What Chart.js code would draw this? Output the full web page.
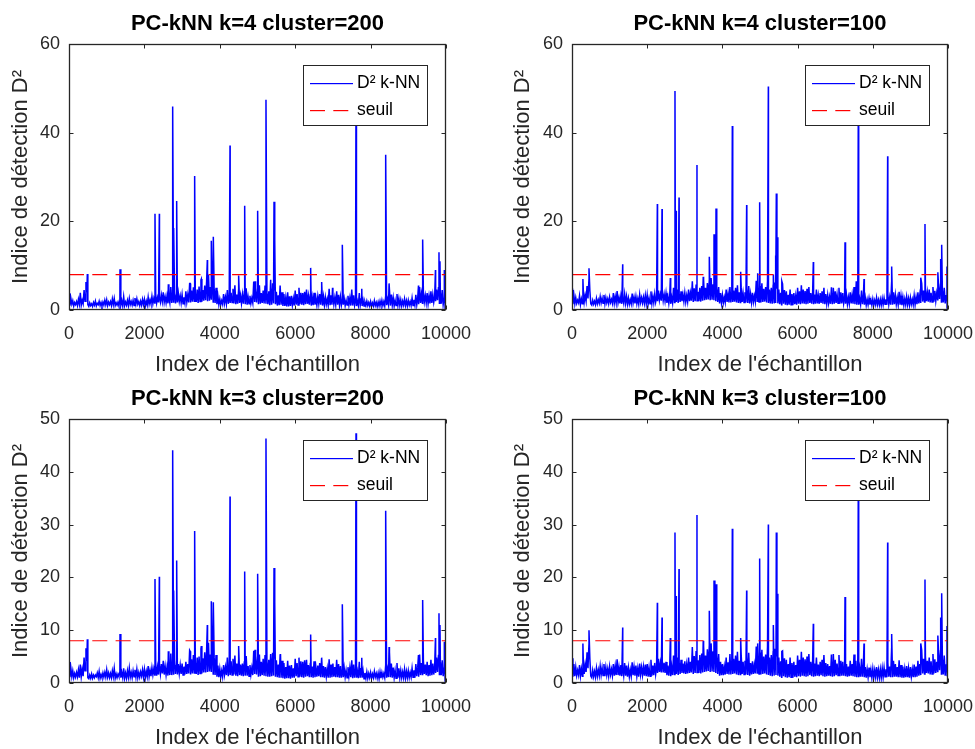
<!DOCTYPE html>
<html><head><meta charset="utf-8">
<script src="https://cdn.jsdelivr.net/npm/chart.js@4.4.1/dist/chart.umd.min.js"></script>
<style>
html,body{margin:0;padding:0;background:#fff;}
body{width:975px;height:749px;position:relative;overflow:hidden;}
canvas{position:absolute;}
</style></head><body>
<canvas id="c1" width="487" height="385" style="left:0px;top:0px"></canvas>
<canvas id="c2" width="485" height="385" style="left:490px;top:0px"></canvas>
<canvas id="c3" width="487" height="385" style="left:0px;top:370px"></canvas>
<canvas id="c4" width="485" height="385" style="left:490px;top:370px"></canvas>
<script>
// ---------------- data ----------------
const sampleStep = 25;          // spacing of the baseline samples (index units)
const threshold = 8;            // seuil
const xTicks = [0, 2000, 4000, 6000, 8000, 10000];
const yTicksTop = [0, 20, 40, 60];
const yTicksBottom = [0, 10, 20, 30, 40, 50];
const titles = ['PC-kNN k=4 cluster=200', 'PC-kNN k=4 cluster=100', 'PC-kNN k=3 cluster=200', 'PC-kNN k=3 cluster=100'];
const legendLabels = ['D² k-NN', 'seuil'];
const xLabel = "Index de l'échantillon";
const yLabel = 'Indice de détection D²';

// baseline D² values, one every 25 samples (0 ... 10000)
const base1 = [
 3.8,1.0,2.6,1.3,2.1,0.9,1.7,1.2,1.9,1.0,2.4,1.3,3.9,1.1,2.2,1.4,4.5,2.0,6.3,4.0,
 1.2,0.8,1.6,1.0,1.4,0.8,1.7,1.1,2.0,0.9,1.5,1.2,2.0,1.0,1.7,0.9,1.8,1.1,2.2,1.2,
 2.3,1.0,1.8,1.2,1.9,1.0,2.5,1.2,2.6,1.0,1.6,1.1,1.8,0.9,2.3,1.1,2.1,0.9,3.0,1.0,
 1.8,1.1,2.2,1.0,2.6,1.2,1.9,1.1,2.2,1.0,2.7,1.3,2.5,1.3,1.9,1.0,2.0,1.1,2.4,1.2,
 2.4,0.9,2.0,1.1,2.9,1.3,2.3,1.4,3.1,1.4,2.6,1.6,3.6,1.6,2.8,1.7,3.0,1.8,3.4,1.9,
 4.0,1.7,3.0,1.6,3.2,1.5,2.8,1.6,5.2,1.6,3.5,1.8,4.1,1.5,3.4,1.7,3.8,1.9,3.2,1.6,
 3.5,1.4,2.9,1.6,4.2,1.8,3.4,1.7,6.0,1.7,4.4,1.9,5.1,2.0,3.6,1.8,4.6,1.6,5.3,1.9,
 6.8,1.9,4.5,2.1,5.5,2.2,6.4,2.0,8.0,2.1,5.2,2.3,6.3,1.8,4.7,1.6,5.0,1.3,3.1,1.2,
 2.5,1.2,2.1,1.3,3.6,1.5,2.9,1.4,4.5,1.4,3.2,1.6,3.9,1.7,4.8,1.5,5.6,1.3,3.5,1.4,
 4.8,1.6,3.3,1.5,3.5,1.4,4.2,1.3,4.9,1.2,3.0,1.4,3.2,1.5,2.7,1.6,6.4,1.8,4.5,1.7,
 4.7,1.3,5.6,1.4,3.8,1.6,4.4,1.5,5.5,1.4,3.9,1.3,4.2,1.1,5.1,1.2,6.0,1.5,4.4,1.3,
 4.1,1.0,3.3,1.1,5.5,1.2,4.0,0.9,3.6,0.9,2.8,0.8,4.0,0.8,3.1,0.9,3.2,1.1,2.6,1.0,
 4.4,1.2,3.6,1.1,5.0,1.3,3.9,1.2,3.8,1.1,4.1,1.3,4.6,1.4,3.2,1.2,3.5,1.0,2.9,1.1,
 3.9,1.2,2.7,1.1,3.1,1.4,3.6,1.2,4.4,1.0,3.0,1.1,2.9,1.3,2.5,1.1,4.8,1.1,3.3,1.2,
 3.5,1.3,2.8,1.2,4.2,1.2,3.4,1.1,3.0,1.1,2.4,1.2,2.6,1.0,2.2,1.1,3.2,1.2,2.7,1.0,
 4.6,1.0,3.3,1.1,2.4,0.9,2.0,1.0,3.8,1.1,2.5,0.9,2.2,0.9,1.8,1.0,2.0,1.0,1.7,0.9,
 1.9,0.8,1.6,0.9,2.1,1.0,1.7,0.8,1.8,0.9,2.0,1.0,2.2,1.0,1.9,0.9,3.2,1.1,2.4,1.2,
 6.0,1.0,3.5,1.1,2.8,0.9,2.2,1.0,3.6,1.1,2.6,1.0,2.3,0.9,2.0,1.1,2.5,1.0,2.1,0.9,
 2.2,1.1,1.9,1.0,2.7,1.0,2.3,1.1,3.4,1.2,2.8,1.3,5.2,1.6,3.6,1.5,4.0,1.8,3.3,1.6,
 3.8,1.4,3.2,1.5,4.2,1.6,3.5,1.7,3.1,2.0,4.6,2.2,5.0,1.5,3.8,1.4,4.5,1.2,2.6,1.1,
 2.0];
const base2 = [
 4.5,1.3,3.4,1.4,2.8,1.5,2.2,1.6,3.2,1.2,2.5,1.4,4.6,1.8,3.3,2.0,5.4,2.6,6.8,4.4,
 1.4,1.1,2.2,1.3,2.0,1.2,2.6,1.4,2.3,1.5,3.0,1.6,2.7,1.5,3.4,1.4,2.8,1.6,2.5,1.4,
 2.9,1.7,2.4,1.5,3.8,1.5,3.0,1.6,4.3,1.6,2.8,1.5,3.2,1.4,2.6,1.5,3.6,1.5,3.1,1.3,
 2.7,1.3,2.3,1.4,3.7,1.6,2.9,1.5,3.1,1.4,2.6,1.3,3.5,1.7,2.8,1.6,2.9,1.5,3.3,1.4,
 3.4,1.3,2.7,1.4,4.2,1.5,3.1,1.6,3.6,1.8,3.0,2.0,4.4,2.2,3.5,2.1,4.0,2.1,3.6,2.0,
 3.8,1.6,3.1,1.5,3.3,1.4,2.9,1.6,5.0,1.7,3.9,1.8,4.6,1.6,3.7,1.8,4.2,2.0,3.5,1.9,
 3.9,1.8,3.3,1.9,4.6,2.0,3.8,2.1,6.5,1.8,4.9,2.0,5.6,2.1,4.1,2.0,5.0,1.9,5.4,2.1,
 6.8,2.2,5.0,2.3,6.1,2.4,6.6,2.2,7.2,2.3,5.8,2.2,6.4,2.0,5.0,1.8,5.2,1.5,3.8,1.6,
 3.4,1.6,2.9,1.7,4.6,1.8,3.7,1.7,5.2,1.7,3.9,1.8,4.4,1.9,5.0,1.7,5.6,1.6,4.0,1.7,
 5.1,1.8,3.8,1.7,4.0,1.7,4.6,1.6,5.4,1.5,3.6,1.7,3.9,1.8,3.2,1.9,6.6,2.0,5.0,1.8,
 5.4,1.7,6.0,1.8,4.8,1.9,5.2,1.7,6.6,1.6,4.6,1.5,5.0,1.4,5.6,1.5,6.2,1.6,4.8,1.5,
 4.6,1.3,3.9,1.2,5.9,1.4,4.5,1.2,4.2,1.1,3.4,1.2,4.6,1.2,3.6,1.1,3.8,1.3,3.2,1.2,
 5.0,1.4,4.2,1.3,5.6,1.5,4.6,1.4,4.3,1.3,4.8,1.4,5.2,1.6,3.8,1.4,4.0,1.3,3.5,1.4,
 4.6,1.5,3.3,1.4,3.8,1.6,4.2,1.4,5.0,1.3,3.6,1.4,3.4,1.5,3.0,1.4,5.1,1.3,3.9,1.4,
 4.2,1.6,3.5,1.5,5.0,1.4,4.0,1.5,3.8,1.5,3.0,1.4,3.4,1.3,2.9,1.4,4.0,1.5,3.4,1.4,
 5.2,1.3,4.0,1.2,3.0,1.2,2.6,1.3,4.4,1.3,3.2,1.2,2.8,1.1,2.4,1.2,2.7,1.2,2.3,1.1,
 2.5,1.1,2.2,1.2,2.8,1.2,2.3,1.1,2.4,1.1,2.6,1.2,2.7,1.3,2.4,1.2,3.6,1.3,2.9,1.2,
 6.2,1.2,4.0,1.3,3.4,1.3,2.8,1.2,4.1,1.2,3.2,1.1,2.9,1.1,2.5,1.2,3.0,1.2,2.6,1.1,
 2.8,1.3,2.4,1.2,3.3,1.2,2.9,1.3,4.0,1.5,3.4,1.6,6.0,1.9,4.4,1.8,4.8,2.0,4.0,1.9,
 4.6,1.7,3.9,1.8,5.2,1.9,4.3,2.0,3.8,2.3,5.3,2.5,5.8,1.8,4.5,1.7,5.0,1.5,3.2,1.4,
 2.4];
const base3 = [
 4.0,1.1,2.8,1.2,2.3,1.0,1.8,1.1,2.0,1.2,2.5,1.0,3.5,1.2,2.6,1.3,4.8,2.3,6.6,4.2,
 1.0,0.8,1.5,0.9,1.7,0.9,1.5,1.0,1.5,1.2,1.9,1.0,2.2,0.9,1.6,1.0,1.9,1.1,2.0,1.1,
 2.5,1.1,1.9,1.0,1.8,1.0,2.3,1.2,2.8,0.9,1.7,1.0,1.7,1.2,2.2,1.0,2.0,1.0,2.8,0.9,
 1.9,0.9,2.3,1.1,2.8,1.1,2.0,1.0,2.3,1.2,2.5,1.1,2.6,1.0,2.0,1.1,2.1,1.3,2.5,1.1,
 2.6,1.0,2.2,1.2,3.2,1.2,2.4,1.3,2.9,1.5,2.7,1.5,3.8,1.4,3.0,1.6,3.3,1.7,3.6,1.8,
 4.2,1.6,3.2,1.5,3.0,1.4,2.9,1.5,5.6,1.5,3.7,1.7,4.4,1.7,3.3,1.6,3.6,1.8,3.4,1.7,
 3.7,1.5,3.1,1.6,4.0,1.7,3.6,1.8,6.2,1.6,4.5,1.8,5.3,1.9,3.8,1.7,4.8,1.5,5.0,1.8,
 6.5,1.8,4.7,2.0,5.8,2.0,6.1,2.1,7.6,2.2,5.4,2.1,6.0,1.7,4.9,1.5,5.3,1.2,3.3,1.1,
 2.7,1.1,2.3,1.2,3.4,1.6,3.0,1.5,4.8,1.3,3.4,1.5,4.1,1.5,4.6,1.6,5.2,1.4,3.7,1.3,
 4.5,1.5,3.5,1.4,3.7,1.3,4.0,1.4,5.1,1.4,3.2,1.3,3.4,1.6,2.9,1.5,6.1,1.7,4.7,1.6,
 4.9,1.2,5.4,1.3,4.0,1.5,4.6,1.4,5.3,1.3,4.1,1.2,4.4,1.2,5.0,1.3,5.7,1.4,4.6,1.2,
 4.3,1.1,3.5,1.0,5.3,1.0,4.2,0.9,3.8,0.8,3.0,0.9,4.2,0.9,3.3,0.8,3.4,1.0,2.8,1.0,
 4.6,1.3,3.8,1.2,4.8,1.2,4.1,1.1,4.0,1.0,4.3,1.2,4.4,1.3,3.4,1.1,3.7,1.1,3.1,1.0,
 4.1,1.1,2.9,1.2,3.3,1.3,3.8,1.1,4.6,1.1,3.2,1.0,3.0,1.2,2.7,1.0,4.5,1.0,3.5,1.1,
 3.7,1.2,3.0,1.1,4.4,1.1,3.6,1.0,3.2,1.0,2.6,1.1,2.8,1.1,2.4,1.0,3.0,1.3,2.9,1.1,
 4.3,0.9,3.5,1.0,2.6,1.0,2.2,0.9,4.0,1.0,2.7,1.0,2.3,0.8,1.9,0.9,2.1,0.9,1.8,1.0,
 2.0,0.9,1.7,1.0,2.2,1.1,1.8,0.9,1.9,0.8,2.1,0.9,2.0,1.1,1.8,1.0,3.4,1.0,2.5,1.1,
 5.8,1.1,3.7,1.0,2.9,1.0,2.4,0.9,3.8,1.0,2.8,1.0,2.4,1.0,2.1,1.0,2.6,0.9,2.2,1.0,
 2.3,1.0,2.0,1.1,2.8,1.1,2.4,1.0,3.6,1.3,3.0,1.2,5.4,1.5,3.8,1.6,4.2,1.7,3.5,1.5,
 4.0,1.3,3.4,1.4,4.4,1.5,3.7,1.6,3.3,1.9,4.8,2.1,5.2,1.6,4.0,1.5,4.3,1.3,2.8,1.2,
 2.1];
const base4 = [
 4.7,1.2,3.6,1.3,3.0,1.4,2.4,1.5,3.4,1.3,2.7,1.3,4.4,1.7,3.5,2.1,5.8,2.8,7.2,4.6,
 1.3,1.0,2.4,1.2,2.2,1.1,2.8,1.3,2.5,1.4,3.2,1.5,2.9,1.4,3.6,1.3,3.0,1.5,2.7,1.3,
 3.1,1.6,2.6,1.4,3.6,1.4,3.2,1.5,4.5,1.5,3.0,1.4,3.4,1.3,2.8,1.4,3.8,1.4,3.3,1.2,
 2.9,1.2,2.5,1.3,3.9,1.5,3.1,1.4,3.3,1.3,2.8,1.2,3.7,1.6,3.0,1.5,3.1,1.4,3.5,1.3,
 3.6,1.2,2.9,1.3,4.4,1.4,3.3,1.5,3.8,1.7,3.2,1.9,4.6,2.1,3.7,2.0,4.2,2.0,3.8,1.9,
 4.0,1.5,3.3,1.4,3.5,1.3,3.1,1.5,5.2,1.6,4.1,1.7,4.8,1.5,3.9,1.7,4.4,1.9,3.7,1.8,
 4.1,1.7,3.5,1.8,4.8,1.9,4.0,2.0,6.8,1.7,5.1,1.9,5.9,2.0,4.3,1.9,5.3,1.8,5.6,2.0,
 7.0,2.1,5.2,2.2,6.4,2.3,6.9,2.1,7.5,2.2,6.0,2.1,6.7,1.9,5.2,1.7,5.5,1.4,4.0,1.5,
 3.6,1.5,3.1,1.6,4.8,1.7,3.9,1.6,5.5,1.6,4.1,1.7,4.6,1.8,5.2,1.6,5.9,1.5,4.2,1.6,
 5.3,1.7,4.0,1.6,4.2,1.6,4.8,1.5,5.7,1.4,3.8,1.6,4.1,1.7,3.4,1.8,6.9,1.9,5.2,1.7,
 5.7,1.6,6.3,1.7,5.0,1.8,5.4,1.6,6.9,1.5,4.8,1.4,5.3,1.3,5.9,1.4,6.5,1.5,5.0,1.4,
 4.8,1.2,4.1,1.1,6.1,1.3,4.7,1.1,4.4,1.0,3.6,1.1,4.8,1.1,3.8,1.0,4.0,1.2,3.4,1.1,
 5.2,1.3,4.4,1.2,5.9,1.4,4.8,1.3,4.5,1.2,5.0,1.3,5.5,1.5,4.0,1.3,4.2,1.2,3.7,1.3,
 4.8,1.4,3.5,1.3,4.0,1.5,4.4,1.3,5.3,1.2,3.8,1.3,3.6,1.4,3.2,1.3,5.4,1.2,4.1,1.3,
 4.4,1.5,3.7,1.4,5.3,1.3,4.2,1.4,4.0,1.4,3.2,1.3,3.6,1.2,3.1,1.3,4.2,1.4,3.6,1.3,
 5.4,1.2,4.2,1.1,3.2,1.1,2.8,1.2,4.6,1.2,3.4,1.1,3.0,1.0,2.6,1.1,2.9,1.1,2.5,1.0,
 2.7,1.0,2.4,1.1,3.0,1.1,2.5,1.0,2.6,1.0,2.8,1.1,2.9,1.2,2.6,1.1,3.8,1.2,3.1,1.1,
 6.5,1.1,4.2,1.2,3.6,1.2,3.0,1.1,4.3,1.1,3.4,1.0,3.1,1.0,2.7,1.1,3.2,1.1,2.8,1.0,
 3.0,1.2,2.6,1.1,3.5,1.1,3.1,1.2,4.2,1.4,3.6,1.5,6.3,1.8,4.6,1.7,5.0,1.9,4.2,1.8,
 4.8,1.6,4.1,1.7,5.5,1.8,4.5,1.9,4.0,2.2,5.6,2.4,6.1,1.7,4.7,1.6,5.2,1.4,3.4,1.3,
 2.5];

// isolated peaks: sample index and D² value
const peakIdx1 = [486,1353,2281,2396,2635,2750,2776,2856,3215,3333,3510,3669,3775,3828,4271,4500,4660,4934,5004,5225,5349,5438,5464,5610,6410,6702,6990,7250,7613,7766,8400,8490,9270,9381,9720,9814,9840,9956];
const peakVal1 = [8.1,9.2,21.7,21.7,5.8,45.9,18.5,24.6,6.0,30.2,7.0,11.3,15.6,16.5,37.1,7.8,23.5,6.5,22.4,47.4,6.8,24.4,15.8,5.5,9.5,6.3,5.0,14.7,49.0,4.8,35.0,6.0,5.5,15.9,9.0,13.0,11.0,9.0];
const peakIdx2 = [290,452,1348,2270,2394,2615,2739,2766,2846,3210,3324,3490,3652,3777,3830,4264,4486,4645,4938,4991,5222,5355,5408,5434,5461,5580,6418,6950,7261,7560,7615,7766,8395,8502,9275,9388,9730,9805,9832,9973];
const peakVal2 = [7.0,9.4,10.3,23.9,22.8,7.2,49.4,22.4,25.4,6.5,32.7,7.5,12.0,17.1,22.9,41.5,8.6,23.7,8.3,24.3,50.4,8.0,12.3,26.3,16.4,6.5,10.8,5.0,15.3,6.5,48.0,7.0,34.7,9.8,7.3,19.4,8.5,11.5,14.7,9.8];
const peakIdx3 = [486,1353,2281,2396,2635,2750,2776,2856,3215,3333,3510,3669,3775,3828,4271,4500,4660,4934,5004,5225,5349,5438,5464,5610,6410,6702,7250,7613,7766,8400,8490,9270,9381,9720,9814,9840,9956];
const peakVal3 = [8.3,9.3,19.7,20.1,6.0,44.1,17.5,23.2,6.0,28.8,7.0,11.0,15.5,15.3,35.3,7.0,21.1,6.3,20.7,46.3,5.5,21.8,15.4,5.5,9.2,4.8,14.9,47.3,4.8,32.6,6.8,5.3,15.7,8.5,13.2,11.0,7.8];
const peakIdx4 = [290,452,1348,2270,2394,2615,2739,2766,2846,3210,3324,3490,3652,3777,3830,4264,4486,4645,4938,4991,5222,5355,5434,5461,5580,6418,6950,7261,7615,7766,8395,8502,9275,9388,9730,9805,9832,9973];
const peakVal4 = [7.5,10.0,10.5,15.2,12.4,8.5,28.5,16.5,21.6,6.8,31.8,8.0,13.7,19.4,18.7,29.2,8.5,17.5,7.5,23.6,30.0,11.0,28.5,16.9,6.0,11.2,5.5,16.3,40.0,7.5,26.6,9.3,7.5,19.6,9.0,12.4,17.0,10.8];

// ---------------- drawing ----------------
const FONT = '"Liberation Sans", Arial, Helvetica, sans-serif';
const AXIS_COLOR = '#262626';
const SERIES_COLOR = '#0000ff';
const SEUIL_COLOR = '#ff0000';
const SEUIL_DASH = [15, 8.3];

function buildSeries(base, idx, val) {
  const pts = base.map((v, i) => ({x: i * sampleStep, y: v}));
  idx.forEach((x, i) => pts.push({x: x, y: val[i]}));
  pts.sort((a, b) => a.x - b.x);
  return pts;
}

const framePlugin = {
  id: 'frame',
  afterDatasetsDraw(chart) {
    const ctx = chart.ctx;
    const a = chart.chartArea;
    const xs = chart.scales.x, ys = chart.scales.y;
    ctx.save();
    ctx.setLineDash([]);
    ctx.strokeStyle = AXIS_COLOR;
    ctx.lineWidth = 1;
    const L = Math.round(a.left) + 0.5, R = Math.round(a.right) - 0.5;
    const T = Math.round(a.top) + 0.5, B = Math.round(a.bottom) - 0.5;
    ctx.beginPath();
    const tl = 4;
    xs.ticks.forEach(t => {
      const p = Math.round(xs.getPixelForValue(t.value)) + 0.5;
      ctx.moveTo(p, B); ctx.lineTo(p, B - tl);
      ctx.moveTo(p, T); ctx.lineTo(p, T + tl);
    });
    ys.ticks.forEach(t => {
      const p = Math.round(ys.getPixelForValue(t.value)) + 0.5;
      ctx.moveTo(L, p); ctx.lineTo(L + tl, p);
      ctx.moveTo(R, p); ctx.lineTo(R - tl, p);
    });
    ctx.stroke();
    ctx.lineWidth = 1.3;
    ctx.strokeRect(L, T, R - L, B - T);

    // legend box
    const lw = 124, lh = 60;
    const lx = Math.round(a.right - 19 - lw), ly = Math.round(a.top + 21);
    ctx.fillStyle = '#ffffff';
    ctx.fillRect(lx, ly, lw, lh);
    ctx.lineWidth = 1;
    ctx.strokeStyle = AXIS_COLOR;
    ctx.strokeRect(lx + 0.5, ly + 0.5, lw, lh);
    const rows = [ly + 18, ly + 45];
    // solid sample for the D² curve
    ctx.fillStyle = SERIES_COLOR;
    ctx.fillRect(lx + 7, rows[0], 43, 1.2);
    // dashed sample for the threshold
    ctx.fillStyle = SEUIL_COLOR;
    let px = lx + 7;
    while (px < lx + 50) {
      const w = Math.min(SEUIL_DASH[0], lx + 50 - px);
      ctx.fillRect(px, rows[1], w, 1.2);
      px += SEUIL_DASH[0] + SEUIL_DASH[1];
    }
    ctx.fillStyle = '#000000';
    ctx.font = '17.5px ' + FONT;
    ctx.textBaseline = 'middle';
    ctx.textAlign = 'left';
    for (let i = 0; i < 2; i++) ctx.fillText(legendLabels[i], lx + 54, rows[i] + 0.5);
    ctx.restore();
  }
};

function makeChart(id, title, series, yMax, yTicks, opts) {
  const tickFont = {family: FONT, size: 18};
  const labelFont = {family: FONT, size: 22};
  return new Chart(document.getElementById(id), {
    type: 'line',
    data: {
      datasets: [
        {label: legendLabels[0], data: series, borderColor: SERIES_COLOR, borderWidth: 1.5,
         pointRadius: 0, tension: 0, order: 1},
        {label: legendLabels[1], data: [{x: xTicks[0], y: threshold}, {x: xTicks[xTicks.length - 1], y: threshold}],
         borderColor: SEUIL_COLOR, borderWidth: 1.2, borderDash: SEUIL_DASH, pointRadius: 0, order: 0}
      ]
    },
    options: {
      responsive: false,
      animation: false,
      devicePixelRatio: 1,
      events: [],
      layout: {padding: {left: 0, right: opts.padRight, top: 0, bottom: 0}},
      plugins: {
        legend: {display: false},
        tooltip: {enabled: false},
        title: {
          display: true, text: title, color: '#000000', fullSize: false,
          font: {family: FONT, size: 22, weight: 'bold', lineHeight: 1.2},
          padding: {top: opts.titleTop, bottom: opts.titleBottom}
        }
      },
      scales: {
        x: {
          type: 'linear', min: xTicks[0], max: xTicks[xTicks.length - 1],
          afterBuildTicks: s => { s.ticks = xTicks.map(v => ({value: v})); },
          afterFit: s => { s.height = opts.xAxisH; s.paddingLeft = 0; s.paddingRight = 0; },
          grid: {display: false, drawTicks: false},
          border: {display: false},
          ticks: {font: tickFont, color: AXIS_COLOR, padding: 13, maxRotation: 0, autoSkip: false,
                  callback: v => String(v)},
          title: {display: true, text: xLabel, font: labelFont, color: AXIS_COLOR, padding: {top: 0, bottom: opts.xTitleBottom}}
        },
        y: {
          type: 'linear', min: 0, max: yMax,
          afterBuildTicks: s => { s.ticks = yTicks.map(v => ({value: v})); },
          afterFit: s => { s.width = opts.yAxisW; s.paddingTop = 0; s.paddingBottom = 0; },
          grid: {display: false, drawTicks: false},
          border: {display: false},
          ticks: {font: tickFont, color: AXIS_COLOR, padding: 9, autoSkip: false, callback: v => String(v)},
          title: {display: true, text: yLabel, font: labelFont, color: AXIS_COLOR, padding: {top: opts.yTitleTop, bottom: 0}}
        }
      }
    },
    plugins: [framePlugin]
  });
}

Chart.defaults.font.family = FONT;

makeChart('c1', titles[0], buildSeries(base1, peakIdx1, peakVal1), 60, yTicksTop,
  {padRight: 41, yAxisW: 69, xAxisH: 75, titleTop: 11, titleBottom: 6.6, xTitleBottom: 7, yTitleTop: 8});
makeChart('c2', titles[1], buildSeries(base2, peakIdx2, peakVal2), 60, yTicksTop,
  {padRight: 27, yAxisW: 82, xAxisH: 75, titleTop: 11, titleBottom: 6.6, xTitleBottom: 7, yTitleTop: 20});
makeChart('c3', titles[2], buildSeries(base3, peakIdx3, peakVal3), 50, yTicksBottom,
  {padRight: 41, yAxisW: 69, xAxisH: 72, titleTop: 16, titleBottom: 6.6, xTitleBottom: 4, yTitleTop: 8});
makeChart('c4', titles[3], buildSeries(base4, peakIdx4, peakVal4), 50, yTicksBottom,
  {padRight: 27, yAxisW: 82, xAxisH: 72, titleTop: 16, titleBottom: 6.6, xTitleBottom: 4, yTitleTop: 20});
</script>
</body></html>
